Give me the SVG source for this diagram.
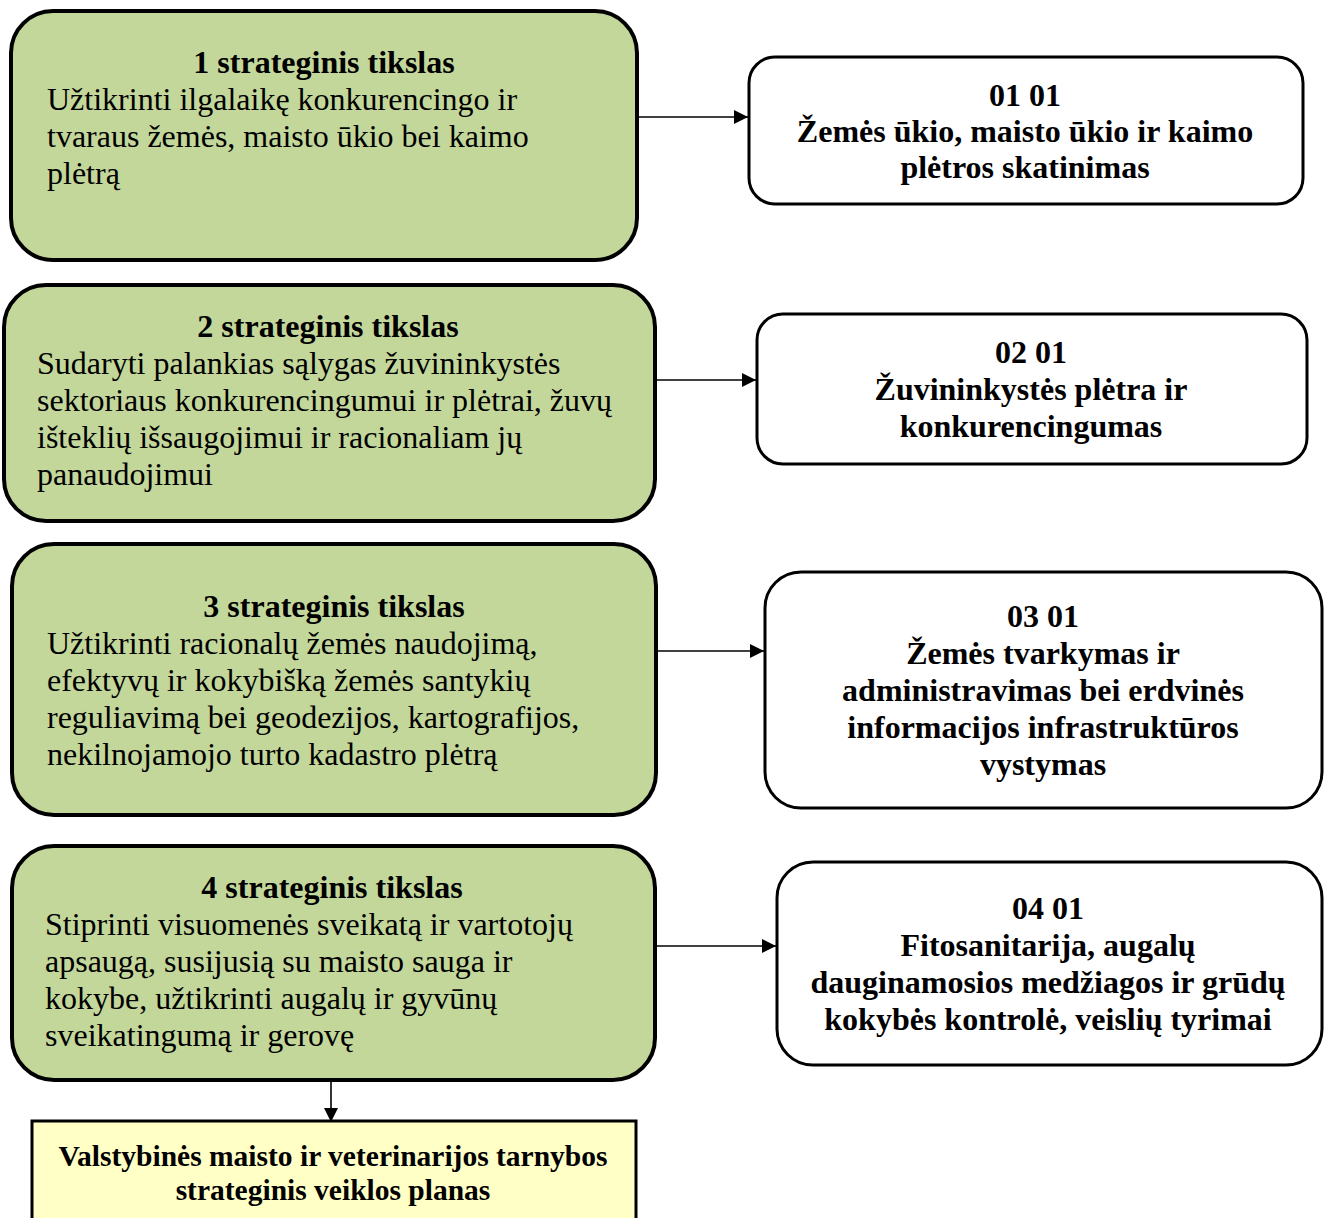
<svg xmlns="http://www.w3.org/2000/svg" width="1328" height="1218" viewBox="0 0 1328 1218">
<defs>
<style>
.goal{fill:#C4D79B;stroke:#000;stroke-width:4}
.prog{fill:#fff;stroke:#000;stroke-width:3}
.plan{fill:#FFFFC6;stroke:#000;stroke-width:3}
text{font-family:"Liberation Serif","Times New Roman",serif;fill:#000}
.t{font-size:32px;font-weight:bold;text-anchor:middle}
.b{font-size:32px}
.p{font-size:32px;font-weight:bold;text-anchor:middle}
.s{font-size:29.5px;font-weight:bold;text-anchor:middle}
.c{stroke:#000;stroke-width:1.6;fill:none}
</style>
<marker id="ah" viewBox="0 0 10 10" refX="10" refY="5" markerWidth="14" markerHeight="14" markerUnits="userSpaceOnUse" orient="auto">
<path d="M0,0 L10,5 L0,10 Z" fill="#000"/>
</marker>
</defs>
<rect width="1328" height="1218" fill="#fff"/>
<g id="connectors">
<line class="c" x1="637" y1="117" x2="748" y2="117" marker-end="url(#ah)"/>
<line class="c" x1="655" y1="380" x2="756" y2="380" marker-end="url(#ah)"/>
<line class="c" x1="657" y1="651" x2="764" y2="651" marker-end="url(#ah)"/>
<line class="c" x1="655" y1="946" x2="776" y2="946" marker-end="url(#ah)"/>
<line class="c" x1="331" y1="1060" x2="331" y2="1122" marker-end="url(#ah)"/>
</g>
<g id="goal1">
<rect class="goal" x="11" y="11" width="626" height="249" rx="42"/>
<text class="t" x="324" y="73">1 strateginis tikslas</text>
<text class="b" x="47" y="110">Užtikrinti ilgalaikę konkurencingo ir</text>
<text class="b" x="47" y="147">tvaraus žemės, maisto ūkio bei kaimo</text>
<text class="b" x="47" y="184">plėtrą</text>
</g>
<g id="prog1">
<rect class="prog" x="749" y="57" width="554" height="147" rx="26"/>
<text class="p" x="1025" y="106">01 01</text>
<text class="p" x="1025" y="142">Žemės ūkio, maisto ūkio ir kaimo</text>
<text class="p" x="1025" y="178">plėtros skatinimas</text>
</g>
<g id="goal2">
<rect class="goal" x="4" y="285" width="651" height="236" rx="42"/>
<text class="t" x="328" y="337">2 strateginis tikslas</text>
<text class="b" x="37" y="374">Sudaryti palankias sąlygas žuvininkystės</text>
<text class="b" x="37" y="411">sektoriaus konkurencingumui ir plėtrai, žuvų</text>
<text class="b" x="37" y="448">išteklių išsaugojimui ir racionaliam jų</text>
<text class="b" x="37" y="485">panaudojimui</text>
</g>
<g id="prog2">
<rect class="prog" x="757" y="314" width="550" height="150" rx="26"/>
<text class="p" x="1031" y="363">02 01</text>
<text class="p" x="1031" y="400">Žuvininkystės plėtra ir</text>
<text class="p" x="1031" y="437">konkurencingumas</text>
</g>
<g id="goal3">
<rect class="goal" x="12" y="544" width="644" height="271" rx="42"/>
<text class="t" x="334" y="617">3 strateginis tikslas</text>
<text class="b" x="47" y="654">Užtikrinti racionalų žemės naudojimą,</text>
<text class="b" x="47" y="691">efektyvų ir kokybišką žemės santykių</text>
<text class="b" x="47" y="728">reguliavimą bei geodezijos, kartografijos,</text>
<text class="b" x="47" y="765">nekilnojamojo turto kadastro plėtrą</text>
</g>
<g id="prog3">
<rect class="prog" x="765" y="572" width="557" height="236" rx="36"/>
<text class="p" x="1043" y="627">03 01</text>
<text class="p" x="1043" y="664">Žemės tvarkymas ir</text>
<text class="p" x="1043" y="701">administravimas bei erdvinės</text>
<text class="p" x="1043" y="738">informacijos infrastruktūros</text>
<text class="p" x="1043" y="775">vystymas</text>
</g>
<g id="goal4">
<rect class="goal" x="12" y="846" width="643" height="234" rx="42"/>
<text class="t" x="332" y="898">4 strateginis tikslas</text>
<text class="b" x="45" y="935">Stiprinti visuomenės sveikatą ir vartotojų</text>
<text class="b" x="45" y="972">apsaugą, susijusią su maisto sauga ir</text>
<text class="b" x="45" y="1009">kokybe, užtikrinti augalų ir gyvūnų</text>
<text class="b" x="45" y="1046">sveikatingumą ir gerovę</text>
</g>
<g id="prog4">
<rect class="prog" x="777" y="862" width="545" height="203" rx="36"/>
<text class="p" x="1048" y="919">04 01</text>
<text class="p" x="1048" y="956">Fitosanitarija, augalų</text>
<text class="p" x="1048" y="993">dauginamosios medžiagos ir grūdų</text>
<text class="p" x="1048" y="1030">kokybės kontrolė, veislių tyrimai</text>
</g>
<g id="plan">
<rect class="plan" x="32" y="1121" width="604" height="110"/>
<text class="s" x="333" y="1166">Valstybinės maisto ir veterinarijos tarnybos</text>
<text class="s" x="333" y="1200">strateginis veiklos planas</text>
</g>
</svg>
